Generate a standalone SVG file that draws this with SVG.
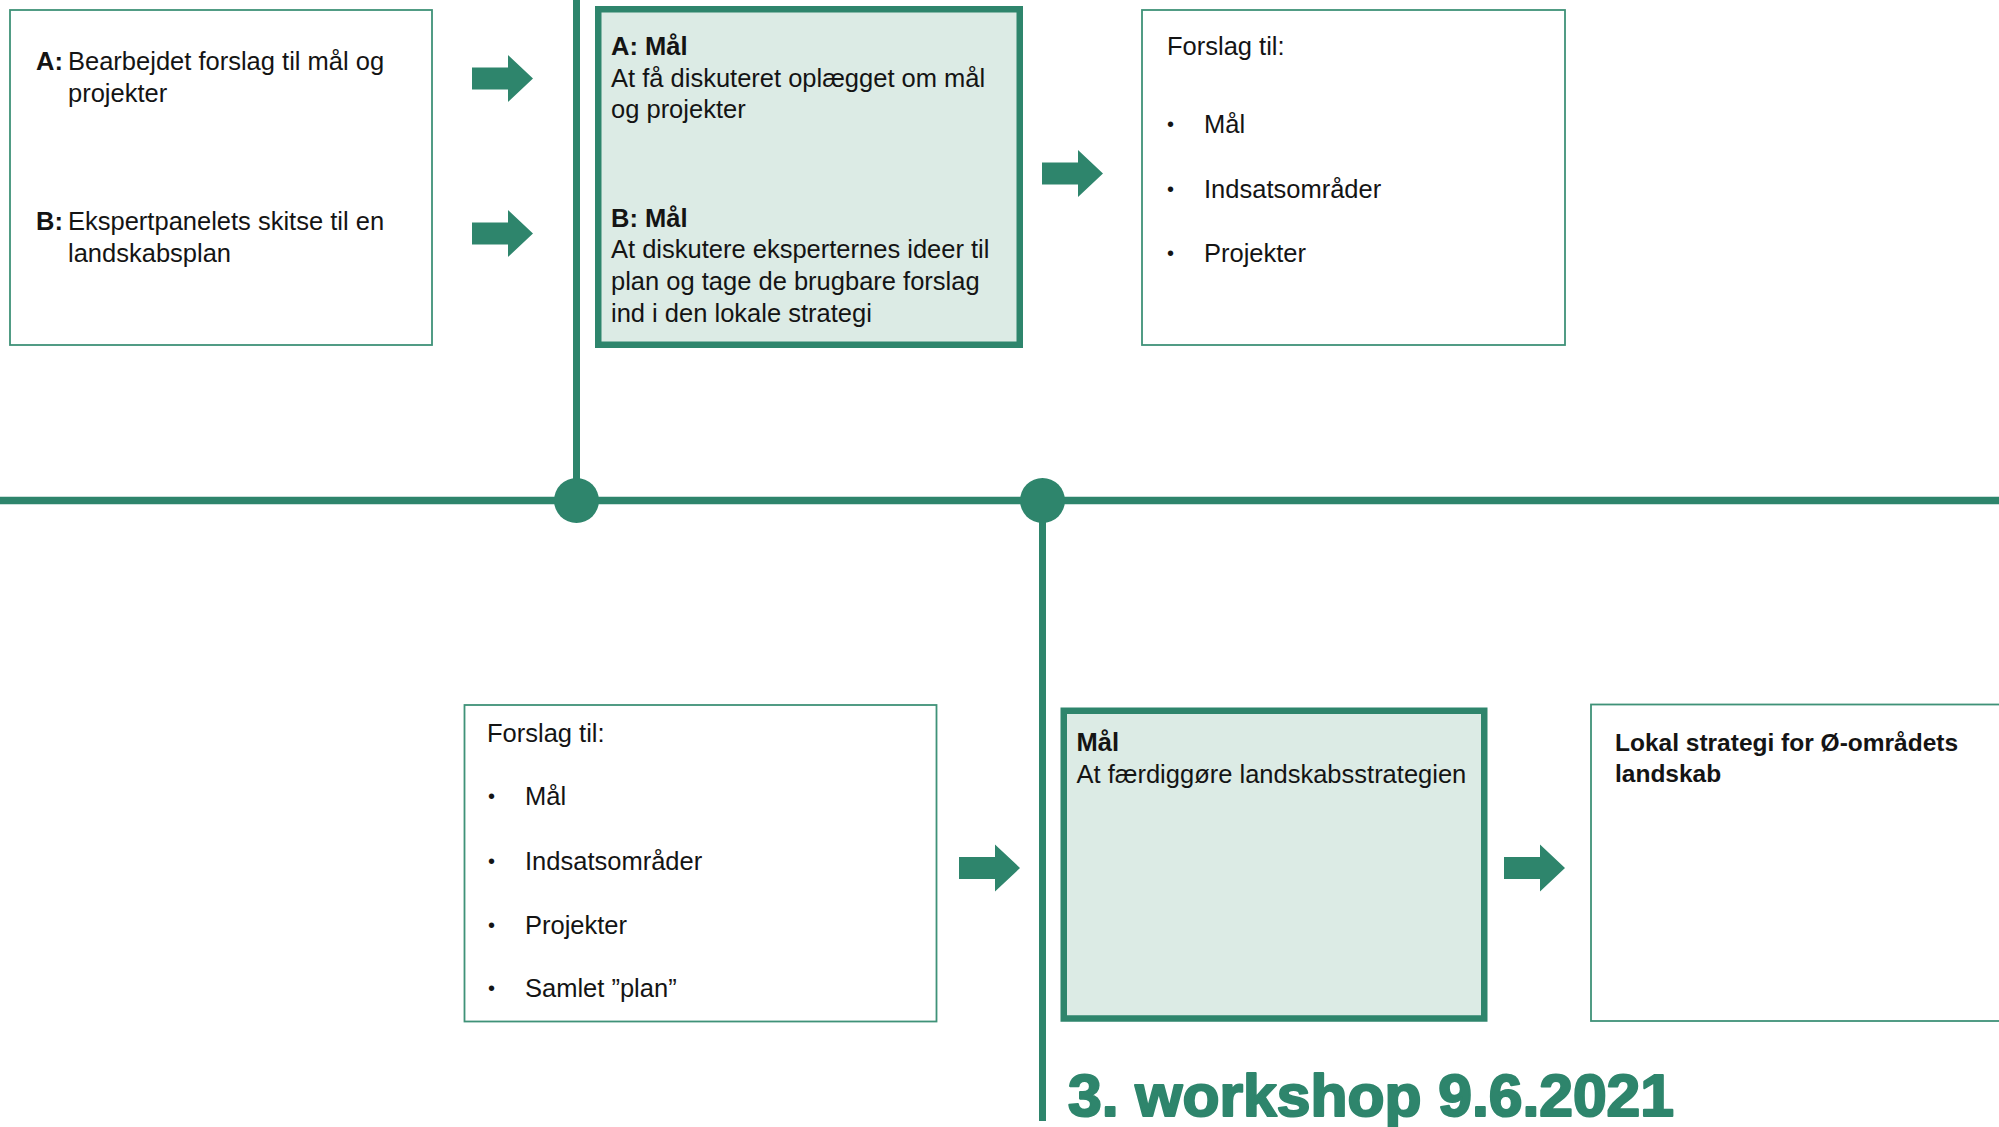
<svg xmlns="http://www.w3.org/2000/svg" width="1999" height="1127" viewBox="0 0 1999 1127">
<style>
.box{fill:#ffffff;stroke:#3f9278;stroke-width:1.8}
.gbox{fill:#dcebe5;stroke:#2e856c;stroke-width:6.5}
.t{font-family:"Liberation Sans",Arial,sans-serif;font-size:25.5px;fill:#141414}
.b{font-weight:bold}
.bul{font-family:"Liberation Sans",Arial,sans-serif;font-size:20px;fill:#141414}
.line{stroke:#2e856c;fill:none}
.arr{fill:#2e856c}
.title{font-family:"Liberation Sans",Arial,sans-serif;font-size:60px;font-weight:bold;fill:#2e856c;stroke:#2e856c;stroke-width:2.2;stroke-linejoin:round}
</style>
<defs>
<path id="arrow" d="M0,-11 H36 V-23.5 L61,0 L36,23.5 V11 H0 Z"/>
</defs>
<rect width="1999" height="1127" fill="#ffffff"/>

<g id="connectors">
<line class="line" x1="576.5" y1="0" x2="576.5" y2="500" stroke-width="7"/>
<line class="line" x1="0" y1="500.5" x2="1999" y2="500.5" stroke-width="7.5"/>
<line class="line" x1="1042.5" y1="500" x2="1042.5" y2="1121" stroke-width="7"/>
<circle cx="576.5" cy="500.5" r="22.5" fill="#2e856c"/>
<circle cx="1042.5" cy="500.5" r="22.5" fill="#2e856c"/>
<use href="#arrow" class="arr" x="472" y="78.5"/>
<use href="#arrow" class="arr" x="472" y="233.5"/>
<use href="#arrow" class="arr" x="1042" y="173.5"/>
<use href="#arrow" class="arr" x="959" y="868"/>
<use href="#arrow" class="arr" x="1504" y="868"/>
</g>

<g id="node-input">
<rect class="box" x="10" y="10" width="422" height="335"/>
<text class="t" x="36" y="70"><tspan class="b">A:</tspan><tspan x="68">Bearbejdet forslag til mål og</tspan></text>
<text class="t" x="68" y="102">projekter</text>
<text class="t" x="36" y="230"><tspan class="b">B:</tspan><tspan x="68">Ekspertpanelets skitse til en</tspan></text>
<text class="t" x="68" y="262">landskabsplan</text>
</g>

<g id="node-workshop2">
<rect class="gbox" x="598.25" y="9.25" width="421.5" height="335.5"/>
<text class="t b" x="611" y="55">A: Mål</text>
<text class="t" x="611" y="87">At få diskuteret oplægget om mål</text>
<text class="t" x="611" y="118">og projekter</text>
<text class="t b" x="611" y="227">B: Mål</text>
<text class="t" x="611" y="258">At diskutere eksperternes ideer til</text>
<text class="t" x="611" y="290">plan og tage de brugbare forslag</text>
<text class="t" x="611" y="322">ind i den lokale strategi</text>
</g>

<g id="node-output2">
<rect class="box" x="1142" y="10" width="423" height="335"/>
<text class="t" x="1167" y="55">Forslag til:</text>
<text class="bul" x="1167" y="131">•</text>
<text class="t" x="1204" y="133">Mål</text>
<text class="bul" x="1167" y="196">•</text>
<text class="t" x="1204" y="198">Indsatsområder</text>
<text class="bul" x="1167" y="260">•</text>
<text class="t" x="1204" y="262">Projekter</text>
</g>

<g id="node-input3">
<rect class="box" x="464.5" y="705" width="472" height="316.5"/>
<text class="t" x="487" y="742">Forslag til:</text>
<text class="bul" x="488" y="803">•</text>
<text class="t" x="525" y="805">Mål</text>
<text class="bul" x="488" y="868">•</text>
<text class="t" x="525" y="870">Indsatsområder</text>
<text class="bul" x="488" y="932">•</text>
<text class="t" x="525" y="934">Projekter</text>
<text class="bul" x="488" y="995">•</text>
<text class="t" x="525" y="997">Samlet ”plan”</text>
</g>

<g id="node-workshop3">
<rect class="gbox" x="1063.75" y="710.75" width="420.5" height="307.75"/>
<text class="t b" x="1076.5" y="751">Mål</text>
<text class="t" x="1076.5" y="783">At færdiggøre landskabsstrategien</text>
</g>

<g id="node-result">
<rect class="box" x="1591" y="704.5" width="420" height="316.5"/>
<text class="t b" x="1615" y="751" style="font-size:24.5px">Lokal strategi for Ø-områdets</text>
<text class="t b" x="1615" y="782" style="font-size:24.5px">landskab</text>
</g>

<g id="title">
<text class="title" x="1068" y="1116" textLength="606" lengthAdjust="spacingAndGlyphs">3. workshop 9.6.2021</text>
</g>
</svg>
